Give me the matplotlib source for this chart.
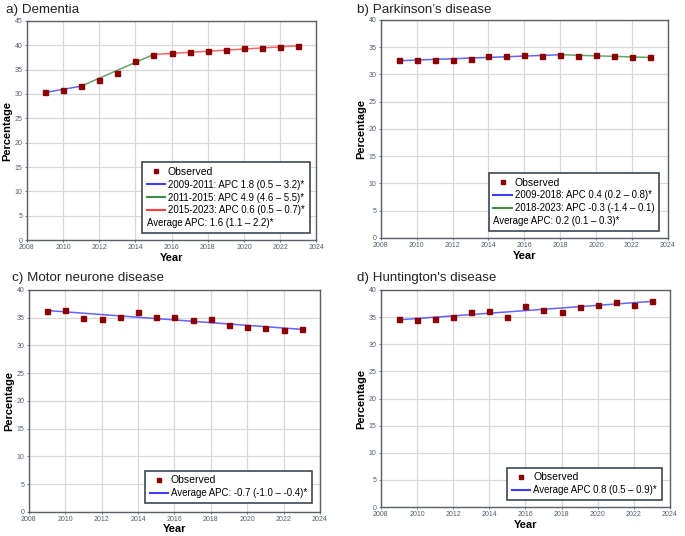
import matplotlib.pyplot as plt
from matplotlib.lines import Line2D

plt.rcParams['font.family'] = ['Liberation Sans', 'DejaVu Sans']

years = list(range(2009, 2024))

# observed percentages
dementia_obs = [30.4, 30.9, 31.7, 32.8, 34.3, 36.8, 37.9, 38.4, 38.6, 38.8, 39.0, 39.5, 39.5, 39.7, 39.8]
parkinson_obs = [32.7, 32.6, 32.7, 32.7, 32.8, 33.4, 33.3, 33.5, 33.4, 33.6, 33.4, 33.6, 33.3, 33.2, 33.1]
mnd_obs = [36.2, 36.4, 35.0, 34.8, 35.1, 36.1, 35.2, 35.2, 34.6, 34.7, 33.7, 33.4, 33.1, 32.8, 32.9]
huntington_obs = [34.7, 34.4, 34.6, 35.1, 36.0, 36.1, 35.1, 37.0, 36.3, 36.0, 36.9, 37.3, 37.7, 37.3, 38.0]

# fitted joinpoint segments: (start year, end year, start value, end value, colour, label)
dementia_fit = [
    (2009, 2011, 30.3, 31.6, '#3c3cff', '2009-2011: APC 1.8 (0.5 \u2013 3.2)*'),
    (2011, 2015, 31.6, 38.1, '#3e8e3e', '2011-2015: APC 4.9 (4.6 \u2013 5.5)*'),
    (2015, 2023, 38.1, 39.9, '#ff3b3b', '2015-2023: APC 0.6 (0.5 \u2013 0.7)*'),
]
parkinson_fit = [
    (2009, 2018, 32.5, 33.6, '#3c3cff', '2009-2018: APC 0.4 (0.2 \u2013 0.8)*'),
    (2018, 2023, 33.6, 33.1, '#3e8e3e', '2018-2023: APC -0.3 (-1.4 \u2013 0.1)'),
]
mnd_fit = [(2009, 2023, 36.3, 32.9, '#3c3cff', 'Average APC: -0.7 (-1.0 \u2013 -0.4)*')]
huntington_fit = [(2009, 2023, 34.5, 37.9, '#3c3cff', 'Average APC 0.8 (0.5 \u2013 0.9)*')]

dementia_avg = 'Average APC: 1.6 (1.1 \u2013 2.2)*'
parkinson_avg = 'Average APC: 0.2 (0.1 \u2013 0.3)*'

panels = [
    ('a) Dementia', dementia_obs, dementia_fit, dementia_avg, 45,
     [0.039, 0.552, 0.423, 0.409], (0.976, 0.032), (0.009, 0.993)),
    ("b) Parkinson\u2019s disease", parkinson_obs, parkinson_fit, parkinson_avg, 40,
     [0.556, 0.556, 0.419, 0.407], (0.969, 0.032), (0.521, 0.993)),
    ('c) Motor neurone disease', mnd_obs, mnd_fit, None, 40,
     [0.042, 0.045, 0.425, 0.414], (0.972, 0.04), (0.017, 0.493)),
    ("d) Huntington's disease", huntington_obs, huntington_fit, None, 40,
     [0.556, 0.054, 0.422, 0.405], (0.972, 0.032), (0.521, 0.493)),
]

fig = plt.figure(figsize=(6.85, 5.36), dpi=100)
fig.patch.set_facecolor('white')

for title, obs, fit, avg, ymax, pos, anchor, tpos in panels:
    ax = fig.add_axes(pos)
    ax.set_xlim(2008, 2024)
    ax.set_ylim(0, ymax)
    ax.set_xticks(range(2008, 2025, 2))
    ax.set_yticks(range(0, ymax + 1, 5))
    ax.grid(color='#d8d8d8', linewidth=0.9)
    ax.set_axisbelow(True)
    for sp in ax.spines.values():
        sp.set_color('#5a6068')
        sp.set_linewidth(1.0)
    ax.tick_params(labelsize=5, colors='#4f5f6f', length=1.5, width=0.6, pad=1.5)

    handles = [Line2D([], [], marker='s', color='none', markerfacecolor='#8b0000',
                      markeredgecolor='#8b0000', markersize=3.2, label='Observed')]
    for x0, x1, y0, y1, col, lab in fit:
        ax.plot([x0, x1], [y0, y1], color=col, linewidth=1.1, alpha=0.8, zorder=2)
        handles.append(Line2D([], [], color=col, linewidth=1.5, label=lab))
    if avg:
        handles.append(Line2D([], [], color='none', label=avg))

    ax.plot(years, obs, 's', color='#8b0000', markersize=3.6, zorder=3)

    leg = ax.legend(handles=handles, loc='lower right', bbox_to_anchor=anchor,
                    fontsize=6.9, frameon=True, fancybox=False, handlelength=1.9,
                    handletextpad=0.3, borderpad=0.5, labelspacing=0.3,
                    borderaxespad=0)
    leg.get_frame().set_edgecolor('#3c4852')
    leg.get_frame().set_linewidth(1.2)
    leg.get_frame().set_alpha(1)
    leg.get_texts()[0].set_fontsize(7.5)
    if avg:
        # the last row has no line, its text starts at the left edge
        rows = leg._legend_handle_box.get_children()[0].get_children()
        rows[-1].get_children()[0].width = 0
        rows[-1].sep = 0

    ax.set_xlabel('Year', fontsize=8, fontweight='bold', labelpad=1)
    ax.set_ylabel('Percentage', fontsize=8, fontweight='bold', labelpad=2)
    fig.text(tpos[0], tpos[1], title, fontsize=9.6, color='#222222', va='top')

fig.savefig('out.png', dpi=100)
